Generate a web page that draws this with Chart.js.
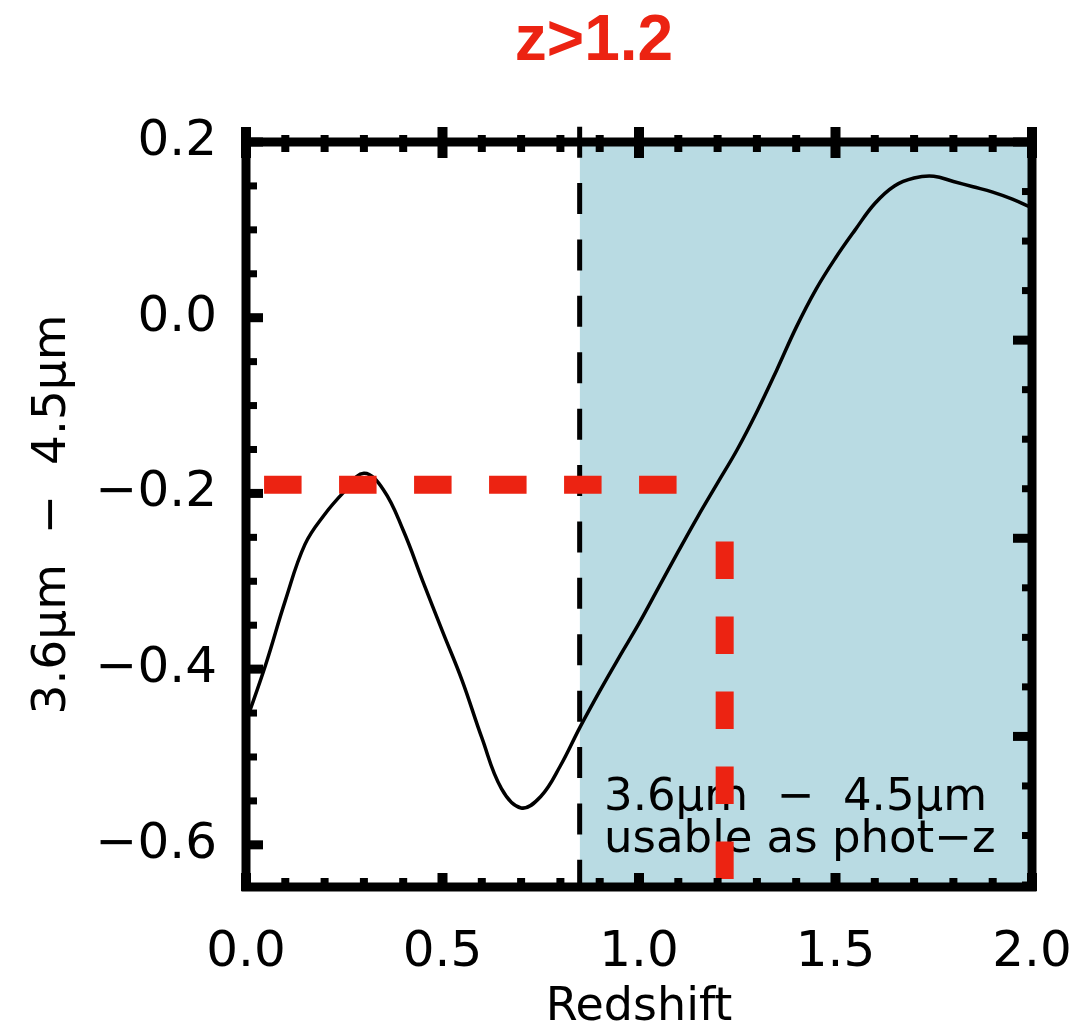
<!DOCTYPE html>
<html>
<head>
<meta charset="utf-8">
<script src="https://cdn.jsdelivr.net/npm/chart.js@4.4.1/dist/chart.umd.min.js"></script>
<style>
  html, body { margin: 0; background: #fff; }
  #wrap { width: 1088px; height: 1031px; position: relative; }
</style>
</head>
<body>
<div id="wrap"><canvas id="c"></canvas></div>
<script>
// model colour track, sampled every 0.05 in redshift
const redshift = [0.00,0.05,0.10,0.15,0.20,0.25,0.30,0.35,0.40,0.45,0.50,0.55,0.60,0.65,0.70,0.75,0.80,0.85,0.90,0.95,
                  1.00,1.05,1.10,1.15,1.20,1.25,1.30,1.35,1.40,1.45,1.50,1.55,1.60,1.65,1.70,1.75,1.80,1.85,1.90,1.95,2.00];
const colour   = [-0.460,-0.395,-0.322,-0.258,-0.224,-0.198,-0.177,-0.196,-0.242,-0.300,-0.357,-0.413,-0.478,-0.536,-0.558,-0.545,-0.510,-0.466,-0.425,-0.386,
                  -0.348,-0.307,-0.266,-0.226,-0.188,-0.150,-0.107,-0.060,-0.011,0.032,0.068,0.100,0.130,0.150,0.159,0.161,0.155,0.149,0.143,0.135,0.125];

const xTicks = [0.0, 0.5, 1.0, 1.5, 2.0];
const yTicks = [-0.6, -0.4, -0.2, 0.0, 0.2];

// usable range and the guide lines
const shadeZ   = [0.849, 2.0];
const cutZ     = [0.849, 0.849];
const cutCol   = [0.2175, -0.648];
const guideZ   = [0.046, 1.098];
const guideCol = [-0.19, -0.19];
const dropZ    = [1.218, 1.218];
const dropCol  = [-0.639, -0.212];

const noteLines = ['3.6\u03bcm  \u2212  4.5\u03bcm', 'usable as phot\u2212z'];

const RED = '#ec2312';
const pts = (xs, ys) => xs.map((v, i) => ({ x: v, y: ys[i] }));
const fmt = v => (v < -1e-9 ? '\u2212' : '') + Math.abs(v).toFixed(1);

// frame with inward ticks, IDL style
const frame = {
  id: 'frame',
  afterDatasetDraw(chart, args) {
    if (chart.data.datasets[args.index].label !== 'shade') return;
    const { ctx, scales: { x, y } } = chart;
    ctx.save();
    ctx.fillStyle = '#000';
    ctx.font = '45px "DejaVu Sans"';
    ctx.textBaseline = 'alphabetic';
    ctx.textAlign = 'left';
    ctx.fillText(noteLines[0], x.getPixelForValue(0.911), y.getPixelForValue(-0.560));
    ctx.fillText(noteLines[1], x.getPixelForValue(0.911), y.getPixelForValue(-0.608));
    ctx.restore();
  },
  afterDraw(chart) {
    const { ctx, chartArea: a, scales: { x, y, y2 } } = chart;
    ctx.save();
    ctx.fillStyle = '#000';
    ctx.strokeStyle = '#000';
    ctx.lineWidth = 9;
    ctx.strokeRect(a.left, a.top, a.right - a.left, a.bottom - a.top);

    for (let i = 0; i <= 20; i++) {
      const px = x.getPixelForValue(i / 10);
      if (i % 5 === 0) {
        ctx.fillRect(px - 5, a.bottom - 14, 10, 18);
        ctx.fillRect(px - 5, a.top - 15, 10, 31);
      } else {
        ctx.fillRect(px - 4, a.bottom - 9, 8, 10);
        ctx.fillRect(px - 4, a.top - 7, 8, 17);
      }
    }
    for (let k = 0; k <= 16; k++) {
      const py = y.getPixelForValue(0.2 - k * 0.05);
      if (k % 4 === 0) ctx.fillRect(a.left, py - 4.5, 17, 9);
      else ctx.fillRect(a.left, py - 3.5, 11, 7);
    }
    for (let k = 0; k <= 15; k++) {
      const v = -k * 0.25;
      if (v < y2.min) break;
      const py = y2.getPixelForValue(v);
      if (k % 4 === 0) ctx.fillRect(a.right - 19, py - 4.5, 19, 9);
      else ctx.fillRect(a.right - 10, py - 3.5, 10, 7);
    }

    ctx.fillStyle = RED;
    ctx.font = 'bold 64px "Liberation Sans", Arial, sans-serif';
    ctx.textAlign = 'center';
    ctx.textBaseline = 'alphabetic';
    ctx.fillText('z>1.2', 594, 60);
    ctx.restore();
  }
};

new Chart(document.getElementById('c'), {
  type: 'line',
  data: {
    datasets: [
      { label: 'drop', data: pts(dropZ, dropCol), borderColor: RED, borderWidth: 18,
        borderDash: [37.5, 37.5], borderCapStyle: 'butt', pointRadius: 0, order: 0 },
      { label: 'guide', data: pts(guideZ, guideCol), borderColor: RED, borderWidth: 18,
        borderDash: [37.5, 37.5], borderCapStyle: 'butt', pointRadius: 0, order: 0 },
      { label: 'track', data: pts(redshift, colour), borderColor: '#000', borderWidth: 3.5,
        tension: 0.4, pointRadius: 0, order: 1 },
      { label: 'cut', data: pts(cutZ, cutCol), borderColor: '#000', borderWidth: 5,
        borderDash: [31, 25.4], borderCapStyle: 'butt', pointRadius: 0, clip: false, order: 2 },
      { label: 'shade', data: pts(shadeZ, [0.2, 0.2]), borderWidth: 0, pointRadius: 0,
        fill: 'start', backgroundColor: '#b9dbe3', order: 3 }
    ]
  },
  options: {
    responsive: true,
    maintainAspectRatio: false,
    animation: false,
    devicePixelRatio: 1,
    layout: { padding: { top: 142, right: 0, bottom: 0, left: 0 } },
    plugins: { legend: { display: false }, tooltip: { enabled: false } },
    scales: {
      x: {
        type: 'linear', position: 'bottom', min: 0, max: 2,
        afterBuildTicks: s => { s.ticks = xTicks.map(v => ({ value: v })); },
        afterFit: s => { s.height = 144; s.paddingLeft = 0; s.paddingRight = 0; },
        grid: { display: false }, border: { display: false },
        ticks: { callback: fmt, color: '#000', padding: 28, maxRotation: 0, autoSkip: false,
                 font: { family: 'DejaVu Sans', size: 50 } },
        title: { display: true, text: 'Redshift', color: '#000', padding: { top: 0, bottom: 0 },
                 font: { family: 'DejaVu Sans', size: 46, lineHeight: 1 } }
      },
      y: {
        type: 'linear', position: 'left', min: -0.648, max: 0.2,
        afterBuildTicks: s => { s.ticks = yTicks.map(v => ({ value: v })); },
        afterFit: s => { s.width = 246; s.paddingTop = 0; s.paddingBottom = 0; },
        grid: { display: false }, border: { display: false },
        ticks: { callback: fmt, color: '#000', padding: 21, autoSkip: false,
                 font: { family: 'DejaVu Sans', size: 50 } },
        title: { display: true, text: '3.6\u03bcm  \u2212  4.5\u03bcm', color: '#000', padding: { top: 29, bottom: 0 },
                 font: { family: 'DejaVu Sans', size: 47, lineHeight: 1 } }
      },
      y2: {
        type: 'linear', position: 'right', min: -3.76, max: 0,
        afterFit: s => { s.width = 56; s.paddingTop = 0; s.paddingBottom = 0; },
        grid: { display: false }, border: { display: false },
        ticks: { display: false }
      }
    }
  },
  plugins: [frame]
});
</script>
</body>
</html>
